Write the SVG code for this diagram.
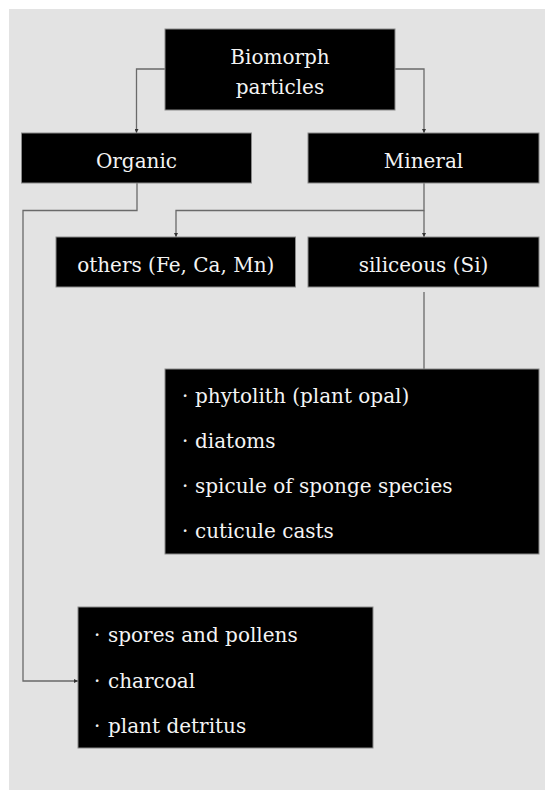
<svg xmlns="http://www.w3.org/2000/svg" width="545" height="790" viewBox="0 0 545 790">
<style>
.box{fill:#000;stroke:#8a8a8a;stroke-width:1}
.t{font-family:"DejaVu Serif","Liberation Serif",serif;font-size:20px;fill:#f4f4f4}
.c{text-anchor:middle}
.ln{fill:none;stroke:#6a6a6a;stroke-width:1.3}
</style>
<defs>
<marker id="ah" viewBox="0 0 6 6" refX="6" refY="3" markerWidth="4" markerHeight="4" orient="auto" markerUnits="userSpaceOnUse">
<path d="M0,0 L6,3 L0,6 z" fill="#333"/>
</marker>
</defs>
<rect x="0" y="0" width="545" height="790" fill="#fff"/>
<rect x="9" y="9" width="536" height="781" fill="#e3e3e3"/>
<g id="connectors">
<path class="ln" d="M165,69 H136.5 V133" marker-end="url(#ah)"/>
<path class="ln" d="M395,69 H424 V133" marker-end="url(#ah)"/>
<path class="ln" d="M137,183 V210.5 H23 V681 H78" marker-end="url(#ah)"/>
<path class="ln" d="M424,183 V210.5 H176 V237" marker-end="url(#ah)"/>
<path class="ln" d="M424,210.5 V237" marker-end="url(#ah)"/>
<path class="ln" d="M424,292 V369"/>
</g>
<g id="biomorph">
<rect class="box" x="165" y="29" width="230" height="81"/>
<text class="t c" x="280" y="64">Biomorph</text>
<text class="t c" x="280" y="94">particles</text>
</g>
<g id="organic">
<rect class="box" x="21.5" y="133" width="230" height="50"/>
<text class="t c" x="136.5" y="168">Organic</text>
</g>
<g id="mineral">
<rect class="box" x="308" y="133" width="231" height="50"/>
<text class="t c" x="423.5" y="168">Mineral</text>
</g>
<g id="others">
<rect class="box" x="56" y="237" width="239.5" height="50"/>
<text class="t c" x="175.75" y="272">others (Fe, Ca, Mn)</text>
</g>
<g id="siliceous">
<rect class="box" x="308" y="237" width="231" height="50"/>
<text class="t c" x="423.5" y="272">siliceous (Si)</text>
</g>
<g id="siliceous-list">
<rect class="box" x="165" y="369" width="374" height="185"/>
<text class="t" y="403"><tspan x="182">·</tspan><tspan x="195">phytolith (plant opal)</tspan></text>
<text class="t" y="448"><tspan x="182">·</tspan><tspan x="195">diatoms</tspan></text>
<text class="t" y="493"><tspan x="182">·</tspan><tspan x="195">spicule of sponge species</tspan></text>
<text class="t" y="538"><tspan x="182">·</tspan><tspan x="195">cuticule casts</tspan></text>
</g>
<g id="organic-list">
<rect class="box" x="78" y="607" width="295" height="141"/>
<text class="t" y="642"><tspan x="94">·</tspan><tspan x="108">spores and pollens</tspan></text>
<text class="t" y="688"><tspan x="94">·</tspan><tspan x="108">charcoal</tspan></text>
<text class="t" y="733"><tspan x="94">·</tspan><tspan x="108">plant detritus</tspan></text>
</g>
</svg>
